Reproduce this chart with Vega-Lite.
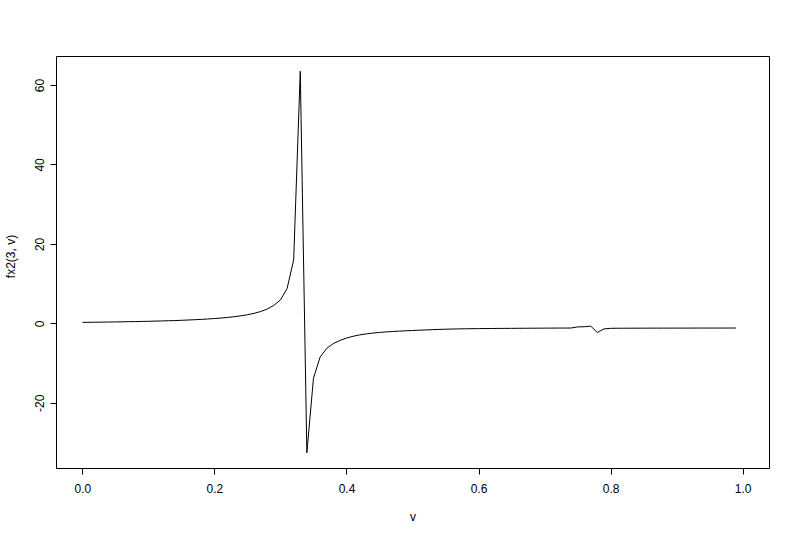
{
  "$schema": "https://vega.github.io/schema/vega-lite/v6.json",
  "width": 713,
  "height": 412,
  "autosize": {"type": "none"},
  "padding": {"left": 56, "top": 56, "right": 31, "bottom": 69},
  "background": "white",
  "config": {
    "font": "Liberation Sans",
    "view": {"stroke": "#000000", "strokeWidth": 1},
    "axis": {
      "domain": false,
      "grid": false,
      "tickColor": "#000000",
      "tickSize": 6,
      "tickWidth": 1,
      "labelColor": "#000000",
      "labelFont": "Liberation Sans",
      "labelFontSize": 12,
      "titleFont": "Liberation Sans",
      "titleFontSize": 12,
      "titleFontWeight": "normal",
      "titleColor": "#000000"
    }
  },
  "data": {
    "values": [
      {"v": 0.00, "y": 0.25}, {"v": 0.01, "y": 0.27}, {"v": 0.02, "y": 0.29}, {"v": 0.03, "y": 0.31},
      {"v": 0.04, "y": 0.34}, {"v": 0.05, "y": 0.36}, {"v": 0.06, "y": 0.39}, {"v": 0.07, "y": 0.42},
      {"v": 0.08, "y": 0.45}, {"v": 0.09, "y": 0.49}, {"v": 0.10, "y": 0.52}, {"v": 0.11, "y": 0.57},
      {"v": 0.12, "y": 0.61}, {"v": 0.13, "y": 0.66}, {"v": 0.14, "y": 0.71}, {"v": 0.15, "y": 0.77},
      {"v": 0.16, "y": 0.84}, {"v": 0.17, "y": 0.92}, {"v": 0.18, "y": 1.00}, {"v": 0.19, "y": 1.10},
      {"v": 0.20, "y": 1.21}, {"v": 0.21, "y": 1.34}, {"v": 0.22, "y": 1.49}, {"v": 0.23, "y": 1.68},
      {"v": 0.24, "y": 1.90}, {"v": 0.25, "y": 2.17}, {"v": 0.26, "y": 2.52}, {"v": 0.27, "y": 2.98},
      {"v": 0.28, "y": 3.61}, {"v": 0.29, "y": 4.54}, {"v": 0.30, "y": 5.9}, {"v": 0.31, "y": 8.75},
      {"v": 0.32, "y": 16.0}, {"v": 0.33, "y": 63.45}, {"v": 0.34, "y": -32.56}, {"v": 0.35, "y": -13.8},
      {"v": 0.36, "y": -8.5}, {"v": 0.37, "y": -6.3}, {"v": 0.38, "y": -5.1}, {"v": 0.39, "y": -4.3},
      {"v": 0.40, "y": -3.7}, {"v": 0.41, "y": -3.25}, {"v": 0.42, "y": -2.9}, {"v": 0.43, "y": -2.65},
      {"v": 0.44, "y": -2.45}, {"v": 0.45, "y": -2.28}, {"v": 0.46, "y": -2.15}, {"v": 0.47, "y": -2.05},
      {"v": 0.48, "y": -1.95}, {"v": 0.49, "y": -1.87}, {"v": 0.50, "y": -1.80}, {"v": 0.51, "y": -1.72},
      {"v": 0.52, "y": -1.65}, {"v": 0.53, "y": -1.58}, {"v": 0.54, "y": -1.52}, {"v": 0.55, "y": -1.47},
      {"v": 0.56, "y": -1.43}, {"v": 0.57, "y": -1.39}, {"v": 0.58, "y": -1.36}, {"v": 0.59, "y": -1.34},
      {"v": 0.60, "y": -1.32}, {"v": 0.61, "y": -1.30}, {"v": 0.62, "y": -1.29}, {"v": 0.63, "y": -1.27},
      {"v": 0.64, "y": -1.26}, {"v": 0.65, "y": -1.25}, {"v": 0.66, "y": -1.24}, {"v": 0.67, "y": -1.23},
      {"v": 0.68, "y": -1.22}, {"v": 0.69, "y": -1.21}, {"v": 0.70, "y": -1.20}, {"v": 0.71, "y": -1.19},
      {"v": 0.72, "y": -1.18}, {"v": 0.73, "y": -1.18}, {"v": 0.74, "y": -1.17}, {"v": 0.75, "y": -0.9},
      {"v": 0.76, "y": -0.85}, {"v": 0.77, "y": -0.7}, {"v": 0.78, "y": -2.3}, {"v": 0.79, "y": -1.4},
      {"v": 0.80, "y": -1.25}, {"v": 0.81, "y": -1.23}, {"v": 0.82, "y": -1.22}, {"v": 0.83, "y": -1.22},
      {"v": 0.84, "y": -1.21}, {"v": 0.85, "y": -1.21}, {"v": 0.86, "y": -1.20}, {"v": 0.87, "y": -1.20},
      {"v": 0.88, "y": -1.20}, {"v": 0.89, "y": -1.19}, {"v": 0.90, "y": -1.19}, {"v": 0.91, "y": -1.19},
      {"v": 0.92, "y": -1.19}, {"v": 0.93, "y": -1.18}, {"v": 0.94, "y": -1.18}, {"v": 0.95, "y": -1.18},
      {"v": 0.96, "y": -1.18}, {"v": 0.97, "y": -1.18}, {"v": 0.98, "y": -1.17}, {"v": 0.99, "y": -1.17}
    ]
  },
  "mark": {"type": "line", "color": "#000000", "strokeWidth": 1, "clip": true},
  "encoding": {
    "x": {
      "field": "v",
      "type": "quantitative",
      "scale": {"domain": [-0.04, 1.04], "nice": false, "zero": false},
      "axis": {
        "values": [0, 0.2, 0.4, 0.6, 0.8, 1.0],
        "format": ".1f",
        "labelPadding": 9.5,
        "labelBaseline": "top",
        "labelFlush": false,
        "title": "v",
        "titleBaseline": "alphabetic",
        "titleX": 356.5,
        "titleY": 52,
        "titleAlign": "center"
      }
    },
    "y": {
      "field": "y",
      "type": "quantitative",
      "scale": {"domain": [-36.40, 67.29], "nice": false, "zero": false},
      "axis": {
        "values": [-20, 0, 20, 40, 60],
        "labelExpr": "datum.value < 0 ? '-' + abs(datum.value) : '' + datum.value",
        "labelAngle": -90,
        "labelAlign": "center",
        "labelBaseline": "bottom",
        "labelPadding": 4,
        "labelFlush": false,
        "title": "fx2(3, v)",
        "titleAngle": -90,
        "titleAlign": "center",
        "titleBaseline": "middle",
        "titleX": -46,
        "titleY": 200
      }
    }
  }
}
